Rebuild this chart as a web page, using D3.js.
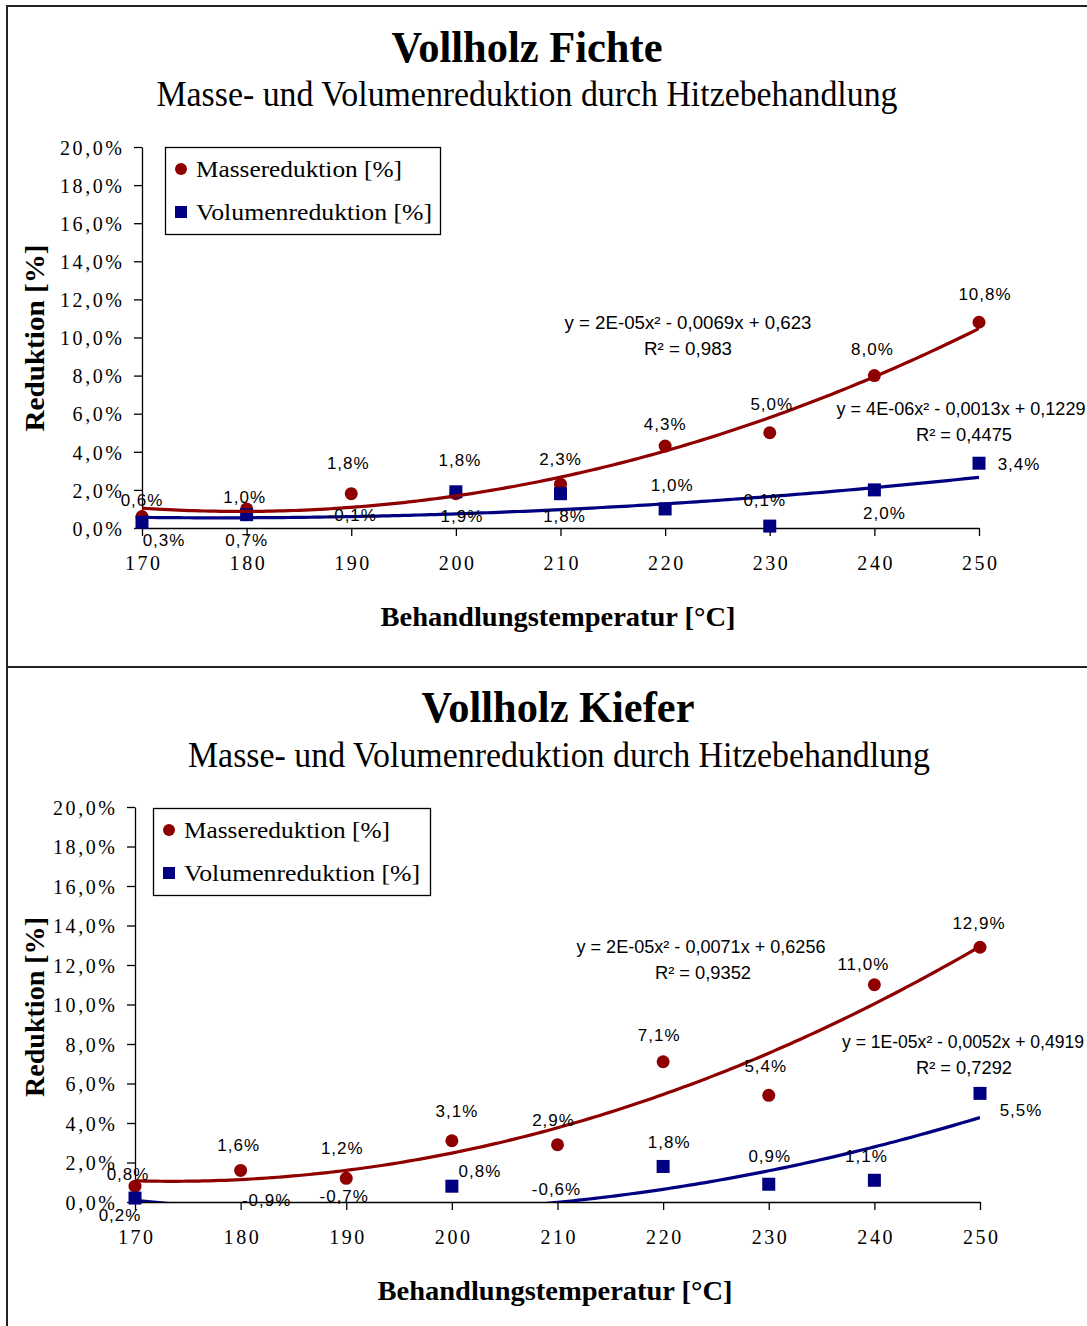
<!DOCTYPE html>
<html>
<head>
<meta charset="utf-8">
<script src="https://cdn.jsdelivr.net/npm/d3@7"></script>
<style>
  html, body { margin: 0; padding: 0; background: #fff; }
  svg { display: block; }
</style>
</head>
<body>
<svg id="chart" width="1087" height="1326"></svg>
<script>
// ---------------- DATA ----------------
const temperatures = [170, 180, 190, 200, 210, 220, 230, 240, 250];
const fichteMasse   = [0.6, 1.0, 1.8, 1.8, 2.3, 4.3, 5.0, 8.0, 10.8];
const fichteVolumen = [0.3, 0.7, -0.1, 1.9, 1.8, 1.0, 0.1, 2.0, 3.4];
const kieferMasse   = [0.8, 1.6, 1.2, 3.1, 2.9, 7.1, 5.4, 11.0, 12.9];
const kieferVolumen = [0.2, -0.9, -0.7, 0.8, -0.6, 1.8, 0.9, 1.1, 5.5];
const yTickValues = [0, 2, 4, 6, 8, 10, 12, 14, 16, 18, 20];
const xTickValues = [170, 180, 190, 200, 210, 220, 230, 240, 250];
const chartTitles = ["Vollholz Fichte", "Vollholz Kiefer"];
const chartSubtitle = "Masse- und Volumenreduktion durch Hitzebehandlung";
const seriesNames = ["Massereduktion [%]", "Volumenreduktion [%]"];
const xAxisTitle = "Behandlungstemperatur [°C]";
const yAxisTitle = "Reduktion [%]";
const fichteEquations = [["y = 2E-05x² - 0,0069x + 0,623", "R² = 0,983"],
                         ["y = 4E-06x² - 0,0013x + 0,1229", "R² = 0,4475"]];
const kieferEquations = [["y = 2E-05x² - 0,0071x + 0,6256", "R² = 0,9352"],
                         ["y = 1E-05x² - 0,0052x + 0,4919", "R² = 0,7292"]];

// ---------------- STYLE / LAYOUT ----------------
const massColor = "#8f0000";
const volColor = "#000080";
const SERIF = "'Liberation Serif', 'Times New Roman', serif";
const NARROW = "'Liberation Sans Narrow', 'Arial Narrow', 'Liberation Sans', sans-serif";

const panels = [
  {
    title: chartTitles[0], masse: fichteMasse, vol: fichteVolumen, eq: fichteEquations,
    titleX: 527, titleY: 62, titleW: 271, subX: 527, subY: 106, subW: 741,
    xL: 142, xR: 979, yB: 528, yT: 147,
    xTitleX: 558, xTitleY: 626, yTitleX: 44, yTitleY: 338, yTitleW: 187,
    legend: { x: 165, y: 147, w: 275, h: 87 },
    eqPos: [[{x: 688, y: 329, w: 247}, {x: 688, y: 355, w: 88}],
            [{x: 961, y: 415, w: 249}, {x: 964, y: 441, w: 96}]],
    massOff: [[0,-17],[-2,-12],[-3,-31],[4,-34],[0,-25],[0,-22],[2,-29],[-2,-27],[6,-28]],
    volOff:  [[22,18],[0,25],[1,-15],[6,24],[4,22],[7,-24],[-5,-26],[10,23],[40,1]]
  },
  {
    title: chartTitles[1], masse: kieferMasse, vol: kieferVolumen, eq: kieferEquations,
    titleX: 558, titleY: 722, titleW: 273, subX: 559, subY: 767, subW: 742,
    xL: 135, xR: 980, yB: 1202, yT: 807,
    xTitleX: 555, xTitleY: 1300, yTitleX: 44, yTitleY: 1007, yTitleW: 180,
    legend: { x: 153, y: 808, w: 277, h: 87 },
    eqPos: [[{x: 701, y: 953, w: 249}, {x: 703, y: 979, w: 96}],
            [{x: 963, y: 1048, w: 242}, {x: 964, y: 1074, w: 96}]],
    massOff: [[-7,-12],[-2,-25],[-4,-30],[5,-30],[-4,-25],[-4,-27],[-3,-29],[-11,-21],[-1,-24]],
    volOff:  [[-15,17],[26,-20],[-2,-20],[28,-15],[-1,-25],[6,-24],[1,-28],[-8,-24],[41,17]]
  }
];

const svg = d3.select("#chart");

// outer frame and separator
svg.append("rect").attr("x", 7).attr("y", 6).attr("width", 1100).attr("height", 1340)
  .attr("fill", "none").attr("stroke", "#222").attr("stroke-width", 2);
svg.append("line").attr("x1", 7).attr("x2", 1087).attr("y1", 667).attr("y2", 667)
  .attr("stroke", "#222").attr("stroke-width", 2);

const fmt = v => v.toFixed(1).replace(".", ",") + "%";

// least-squares quadratic fit (trendline)
function polyFit2(xs, ys) {
  const mx = d3.mean(xs);
  const u = xs.map(x => x - mx);
  let s0 = u.length, s1 = 0, s2 = 0, s3 = 0, s4 = 0, t0 = 0, t1 = 0, t2 = 0;
  u.forEach((ui, i) => {
    const y = ys[i];
    s1 += ui; s2 += ui * ui; s3 += ui ** 3; s4 += ui ** 4;
    t0 += y; t1 += ui * y; t2 += ui * ui * y;
  });
  const A = [[s0, s1, s2, t0], [s1, s2, s3, t1], [s2, s3, s4, t2]];
  for (let i = 0; i < 3; i++) {
    for (let k = i + 1; k < 3; k++) {
      const f = A[k][i] / A[i][i];
      for (let j = i; j < 4; j++) A[k][j] -= f * A[i][j];
    }
  }
  const c = [0, 0, 0];
  for (let i = 2; i >= 0; i--) {
    let s = A[i][3];
    for (let j = i + 1; j < 3; j++) s -= A[i][j] * c[j];
    c[i] = s / A[i][i];
  }
  return x => c[0] + c[1] * (x - mx) + c[2] * (x - mx) ** 2;
}

panels.forEach((p, pi) => {
  const g = svg.append("g");
  const x = d3.scaleLinear().domain([170, 250]).range([p.xL, p.xR]);
  const y = d3.scaleLinear().domain([0, 20]).range([p.yB, p.yT]);

  // titles
  g.append("text").attr("x", p.titleX).attr("y", p.titleY).attr("text-anchor", "middle")
    .attr("font-family", SERIF).attr("font-weight", "bold").attr("font-size", 44)
    .attr("textLength", p.titleW).attr("lengthAdjust", "spacingAndGlyphs").text(p.title);
  g.append("text").attr("x", p.subX).attr("y", p.subY).attr("text-anchor", "middle")
    .attr("font-family", SERIF).attr("font-size", 35)
    .attr("textLength", p.subW).attr("lengthAdjust", "spacingAndGlyphs").text(chartSubtitle);

  // axes
  const yAxis = d3.axisLeft(y).tickValues(yTickValues).tickSize(8).tickSizeOuter(0)
    .tickFormat(fmt).tickPadding(12);
  const ya = g.append("g").attr("transform", `translate(${p.xL},0)`).call(yAxis);
  const xAxis = d3.axisBottom(x).tickValues(xTickValues).tickSize(8).tickSizeOuter(0)
    .tickFormat(d3.format("d")).tickPadding(16);
  const xa = g.append("g").attr("transform", `translate(0,${p.yB})`).call(xAxis);
  [ya, xa].forEach(a => {
    a.select(".domain").attr("stroke", "#000").attr("stroke-width", 1.3);
    a.selectAll(".tick line").attr("stroke", "#000").attr("stroke-width", 1.3);
    a.selectAll(".tick text").attr("font-family", SERIF).attr("font-size", 20)
      .attr("fill", "#000").attr("letter-spacing", "2.6px");
  });
  ya.selectAll(".tick text").attr("dx", "2.6px").attr("dy", "0.36em");
  xa.selectAll(".tick text").attr("dx", "1.3px").attr("dy", "0.9em");

  // axis titles
  g.append("text").attr("x", p.xTitleX).attr("y", p.xTitleY).attr("text-anchor", "middle")
    .attr("font-family", SERIF).attr("font-weight", "bold").attr("font-size", 28)
    .attr("textLength", 355).attr("lengthAdjust", "spacingAndGlyphs").text(xAxisTitle);
  g.append("text").attr("transform", `translate(${p.yTitleX},${p.yTitleY}) rotate(-90)`)
    .attr("text-anchor", "middle")
    .attr("font-family", SERIF).attr("font-weight", "bold").attr("font-size", 28)
    .attr("textLength", p.yTitleW).attr("lengthAdjust", "spacingAndGlyphs").text(yAxisTitle);

  // clip for plot area
  const clipId = "clip" + pi;
  g.append("clipPath").attr("id", clipId).append("rect")
    .attr("x", p.xL - 10).attr("y", p.yT).attr("width", p.xR - p.xL + 20).attr("height", p.yB - p.yT + 7);
  const plot = g.append("g").attr("clip-path", `url(#${clipId})`);
  const lineClipId = "lclip" + pi;
  g.append("clipPath").attr("id", lineClipId).append("rect")
    .attr("x", p.xL).attr("y", p.yT).attr("width", p.xR - p.xL).attr("height", p.yB - p.yT);

  // markers (hide points below 0)
  plot.selectAll("circle.m").data(temperatures.map((t, i) => [t, p.masse[i]]).filter(d => d[1] >= 0))
    .enter().append("circle").attr("class", "m")
    .attr("cx", d => x(d[0])).attr("cy", d => y(d[1])).attr("r", 6.5).attr("fill", massColor);
  plot.selectAll("rect.v").data(temperatures.map((t, i) => [t, p.vol[i]]).filter(d => d[1] >= 0))
    .enter().append("rect").attr("class", "v")
    .attr("x", d => x(d[0]) - 6.5).attr("y", d => y(d[1]) - 6.5)
    .attr("width", 13).attr("height", 13).attr("fill", volColor);

  // trendlines
  const samples = d3.range(170, 250.01, 0.5);
  [[p.masse, massColor], [p.vol, volColor]].forEach(([vals, col]) => {
    const f = polyFit2(temperatures, vals);
    const line = d3.line().x(t => x(t)).y(t => y(f(t)));
    g.append("path").attr("clip-path", `url(#${lineClipId})`)
      .attr("d", line(samples)).attr("fill", "none").attr("stroke", col).attr("stroke-width", 3.2);
  });

  // data labels
  const addLabels = (vals, offs) => {
    g.selectAll(null).data(vals).enter().append("text")
      .attr("x", (d, i) => x(temperatures[i]) + offs[i][0])
      .attr("y", (d, i) => y(d) + offs[i][1] + 6)
      .attr("text-anchor", "middle").attr("font-family", NARROW).attr("font-size", 17)
      .attr("letter-spacing", "1px").attr("fill", "#000")
      .text(d => fmt(d));
  };
  addLabels(p.masse, p.massOff);
  addLabels(p.vol, p.volOff);

  // equations
  p.eq.forEach((lines, si) => {
    lines.forEach((txt, li) => {
      const pos = p.eqPos[si][li];
      g.append("text").attr("x", pos.x).attr("y", pos.y).attr("text-anchor", "middle")
        .attr("font-family", NARROW).attr("font-size", 18)
        .attr("textLength", pos.w).attr("lengthAdjust", "spacingAndGlyphs")
        .attr("fill", "#000").text(txt);
    });
  });

  // legend
  const L = p.legend;
  g.append("rect").attr("x", L.x + 0.5).attr("y", L.y + 0.5).attr("width", L.w).attr("height", L.h)
    .attr("fill", "#fff").attr("stroke", "#000").attr("stroke-width", 1.3);
  g.append("circle").attr("cx", L.x + 16).attr("cy", L.y + 22).attr("r", 6).attr("fill", massColor);
  g.append("rect").attr("x", L.x + 10).attr("y", L.y + 59).attr("width", 12).attr("height", 12).attr("fill", volColor);
  g.append("text").attr("x", L.x + 31).attr("y", L.y + 30).attr("font-family", SERIF).attr("font-size", 24)
    .attr("textLength", 206).attr("lengthAdjust", "spacingAndGlyphs").text(seriesNames[0]);
  g.append("text").attr("x", L.x + 31).attr("y", L.y + 73).attr("font-family", SERIF).attr("font-size", 24)
    .attr("textLength", 236).attr("lengthAdjust", "spacingAndGlyphs").text(seriesNames[1]);
});
</script>
</body>
</html>
